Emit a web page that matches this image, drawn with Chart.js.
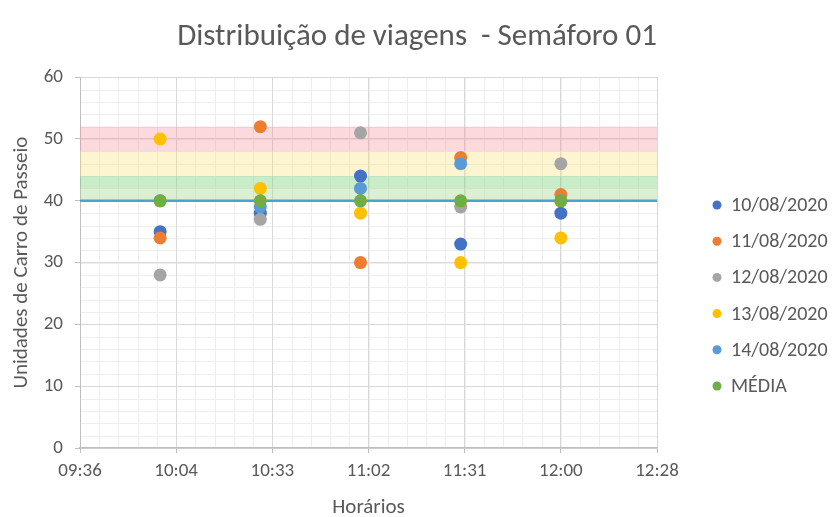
<!DOCTYPE html>
<html>
<head>
<meta charset="utf-8">
<script src="https://cdn.jsdelivr.net/npm/chart.js@4.4.0/dist/chart.umd.min.js"></script>
<style>
    body { margin: 0; background: #fff; }
    #wrap { width: 834px; height: 517px; }
</style>
</head>
<body>
<div id="wrap"><canvas id="myChart"></canvas></div>
<script>
// horarios das contagens
const horarios = ['10:00', '10:30', '11:00', '11:30', '12:00']

// valores (unidades de carro de passeio)
const dia10 = [35, 38, 44, 33, 38]
const dia11 = [34, 52, 30, 47, 41]
const dia12 = [28, 37, 51, 39, 46]
const dia13 = [50, 42, 38, 30, 34]
const dia14 = [40, 39, 42, 46, 40]
const media = [40, 40, 40, 40, 40]

const seriesLabels = ['10/08/2020', '11/08/2020', '12/08/2020', '13/08/2020', '14/08/2020', 'MÉDIA']
const seriesColors = ['#4472C4', '#ED7D31', '#A5A5A5', '#FFC000', '#5B9BD5', '#70AD47']

// eixo x (minutos desde meia-noite)
const xTickLabels = ['09:36', '10:04', '10:33', '11:02', '11:31', '12:00', '12:28']
const X_MIN = 576
const X_STEP = 28.8

// faixas de referencia
const faixaInicio = [48, 44, 42, 40]
const faixaFim = [52, 48, 44, 42]
const faixaCores = ['rgba(245,140,150,0.33)', 'rgba(250,225,110,0.33)', 'rgba(120,210,120,0.40)', 'rgba(170,215,140,0.40)']
const linhaReferencia = 40

const FONT = 'Calibri, Carlito, Lato, sans-serif'
const TEXT_COLOR = '#595959'

function paraMinutos(h) {
    const partes = h.split(':')
    return parseInt(partes[0]) * 60 + parseInt(partes[1])
}

const allSeries = [dia10, dia11, dia12, dia13, dia14, media]

let datasets = []
for (let i = 0; i < allSeries.length; i++) {
    datasets.push({
        label: seriesLabels[i],
        data: allSeries[i].map(function (v, index) {
            return { x: paraMinutos(horarios[index]), y: v }
        }),
        backgroundColor: seriesColors[i],
        borderColor: seriesColors[i],
        borderWidth: 0,
        pointRadius: 6.5,
        order: allSeries.length - i
    })
}

// grade secundaria por baixo da grade principal
const gradeMenor = {
    id: 'gradeMenor',
    beforeDraw(chart) {
        const { ctx, chartArea } = chart
        const x = chart.scales.x
        const y = chart.scales.y
        ctx.save()
        ctx.strokeStyle = '#eeeeee'
        ctx.lineWidth = 1
        for (let i = 0; i <= 30; i++) {
            const px = Math.round(x.getPixelForValue(X_MIN + i * X_STEP / 5)) + 0.5
            ctx.beginPath()
            ctx.moveTo(px, chartArea.top)
            ctx.lineTo(px, chartArea.bottom)
            ctx.stroke()
        }
        for (let v = 0; v <= 60; v += 2) {
            const py = Math.round(y.getPixelForValue(v)) + 0.5
            ctx.beginPath()
            ctx.moveTo(chartArea.left, py)
            ctx.lineTo(chartArea.right, py)
            ctx.stroke()
        }
        ctx.restore()
    }
}

// faixas coloridas e linha de referencia
const faixas = {
    id: 'faixas',
    beforeDatasetsDraw(chart) {
        const { ctx, chartArea } = chart
        const y = chart.scales.y
        ctx.save()
        for (let i = 0; i < faixaInicio.length; i++) {
            const top = y.getPixelForValue(faixaFim[i])
            const bottom = y.getPixelForValue(faixaInicio[i])
            ctx.fillStyle = faixaCores[i]
            ctx.fillRect(chartArea.left, top, chartArea.right - chartArea.left, bottom - top)
        }
        const py = y.getPixelForValue(linhaReferencia)
        ctx.strokeStyle = '#45a3dc'
        ctx.lineWidth = 2.5
        ctx.beginPath()
        ctx.moveTo(chartArea.left, py)
        ctx.lineTo(chartArea.right, py)
        ctx.stroke()
        ctx.restore()
    }
}

// legenda a direita
const legenda = {
    id: 'legenda',
    afterDraw(chart) {
        const ctx = chart.ctx
        ctx.save()
        ctx.font = '20px ' + FONT
        ctx.textBaseline = 'middle'
        ctx.textAlign = 'left'
        chart.data.datasets.forEach(function (ds, i) {
            const cy = 205 + i * 36.2
            ctx.fillStyle = ds.backgroundColor
            ctx.beginPath()
            ctx.arc(717, cy, 4.5, 0, Math.PI * 2)
            ctx.fill()
            ctx.fillStyle = TEXT_COLOR
            ctx.fillText(ds.label, 731, cy + 1)
        })
        ctx.restore()
    }
}

let ctx = document.getElementById('myChart')
let myChart = new Chart(ctx, {
    type: 'scatter',
    data: { datasets: datasets },
    plugins: [gradeMenor, faixas, legenda],
    options: {
        responsive: true,
        maintainAspectRatio: false,
        animation: false,
        layout: { padding: { left: 0, right: 0, top: 0, bottom: 0 } },
        plugins: {
            legend: { display: false },
            tooltip: { enabled: false },
            title: {
                display: true,
                text: 'Distribuição de viagens  - Semáforo 01',
                color: TEXT_COLOR,
                font: { family: FONT, size: 31, weight: 'normal' },
                padding: { top: 19, bottom: 21 }
            }
        },
        scales: {
            x: {
                type: 'linear',
                min: X_MIN,
                max: X_MIN + X_STEP * 6,
                afterFit: function (scale) { scale.height = 69 },
                afterBuildTicks: function (scale) {
                    scale.ticks = xTickLabels.map(function (l, i) {
                        return { value: X_MIN + i * X_STEP }
                    })
                },
                ticks: {
                    autoSkip: false,
                    maxRotation: 0,
                    padding: 7,
                    color: TEXT_COLOR,
                    font: { family: FONT, size: 19 },
                    callback: function (value, index) { return xTickLabels[index] }
                },
                grid: { color: '#d9d9d9', tickLength: 5, tickColor: '#bfbfbf' },
                border: { color: '#bfbfbf', width: 1.5 },
                title: {
                    display: true,
                    text: 'Horários',
                    color: TEXT_COLOR,
                    font: { family: FONT, size: 21 },
                    padding: { top: 0, bottom: -3 }
                }
            },
            y: {
                min: 0,
                max: 60,
                afterFit: function (scale) { scale.width = 80 },
                ticks: {
                    stepSize: 10,
                    padding: 12,
                    color: TEXT_COLOR,
                    font: { family: FONT, size: 19 }
                },
                grid: { color: '#d9d9d9', tickLength: 5, tickColor: '#bfbfbf' },
                border: { color: '#bfbfbf' },
                title: {
                    display: true,
                    text: 'Unidades de Carro de Passeio',
                    color: TEXT_COLOR,
                    font: { family: FONT, size: 21 },
                    padding: { top: 9, bottom: 0 }
                }
            },
            // espaco reservado para a legenda
            espaco: {
                type: 'linear',
                position: 'right',
                afterFit: function (scale) { scale.width = 177 },
                ticks: { display: false },
                grid: { display: false, drawTicks: false },
                border: { display: false }
            }
        }
    }
})
</script>
</body>
</html>
